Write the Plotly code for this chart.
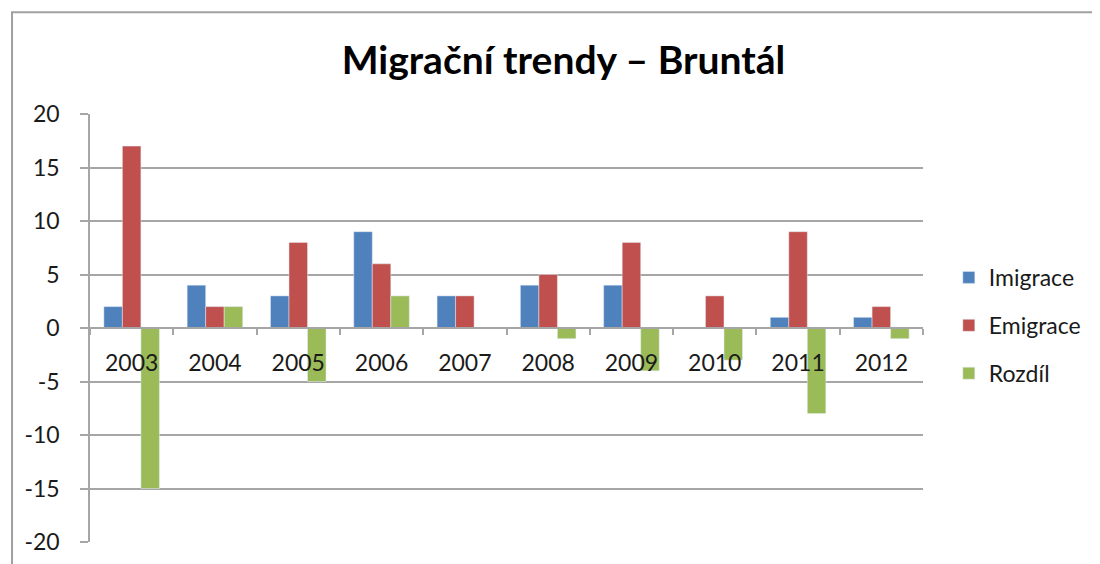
import plotly.graph_objects as go

years = ["2003", "2004", "2005", "2006", "2007", "2008", "2009", "2010", "2011", "2012"]
imigrace = [2, 4, 3, 9, 3, 4, 4, 0, 1, 1]
emigrace = [17, 2, 8, 6, 3, 5, 8, 3, 9, 2]
rozdil = [-15, 2, -5, 3, 0, -1, -4, -3, -8, -1]
y_ticks = [-20, -15, -10, -5, 0, 5, 10, 15, 20]
y_tick_text = ["-20", "-15", "-10", "-5", "0", "5", "10", "15", "20"]

FONT = "Lato, 'Open Sans', sans-serif"
GRID = "#a6a6a6"

fig = go.Figure()
fig.add_trace(go.Bar(x=years, y=imigrace, name="Imigrace", marker_color="#4F81BD", legendgroup="a"))
fig.add_trace(go.Bar(x=years, y=emigrace, name="Emigrace", marker_color="#C0504D", legendgroup="b"))
fig.add_trace(go.Bar(x=years, y=rozdil, name="Rozdíl", marker_color="#9BBB59", legendgroup="c"))

fig.update_layout(
    width=1100, height=564,
    margin=dict(l=82, r=185, t=106, b=30),
    paper_bgcolor="white", plot_bgcolor="white",
    barmode="group", bargap=0.333, bargroupgap=0,
    font=dict(family=FONT, color="#1a1a1a", size=23),
    title=dict(text="<b>Migrační trendy – Bruntál</b>", x=0.505, xref="container", xanchor="center",
               y=0.908, yref="container", yanchor="middle",
               font=dict(family=FONT, size=39, color="#000000")),
    legend=dict(x=1.031, xanchor="left", y=0.506, yanchor="middle",
                font=dict(size=23, family=FONT), traceorder="grouped", tracegroupgap=15,
                bgcolor="rgba(0,0,0,0)"),
    showlegend=True,
)
fig.update_xaxes(
    anchor="free", position=0.5, showline=True, linecolor=GRID, linewidth=1.5,
    ticks="outside", tickson="boundaries", ticklen=6, tickcolor=GRID, tickwidth=1.5,
    ticklabelstandoff=15, showgrid=False, tickfont=dict(size=23), layer="above traces",
)
fig.update_yaxes(
    range=[-20, 20], tickvals=y_ticks, ticktext=y_tick_text, showgrid=True, gridcolor=GRID, gridwidth=1.5,
    zeroline=False, showline=True, linecolor=GRID, linewidth=1.5,
    ticks="outside", ticklen=8, tickcolor=GRID, tickwidth=1.5, ticklabelstandoff=16,
    tickfont=dict(size=23),
)
fig.add_shape(type="rect", xref="paper", yref="paper", x0=-0.0936, x1=1.4, y0=-0.2, y1=1.238,
              line=dict(color="#a0a0a0", width=2), fillcolor="rgba(0,0,0,0)", layer="below")

fig.write_html("out.html")
